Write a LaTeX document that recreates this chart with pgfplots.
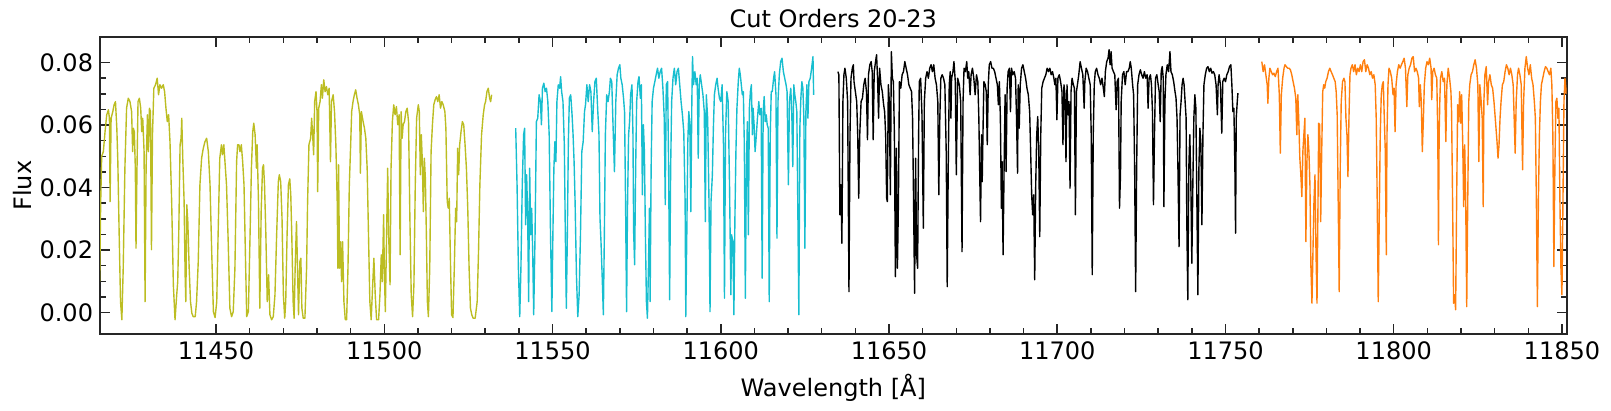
\documentclass[border=0pt]{standalone}
\usepackage{fontspec}
\setmainfont{DejaVu Sans}
\usepackage{pgfplots}
\pgfplotsset{compat=1.18}
\definecolor{tabolive}{HTML}{BCBD22}
\definecolor{tabcyan}{HTML}{17BECF}
\definecolor{taborange}{HTML}{FF7F0E}
\definecolor{spine}{HTML}{262626}
\newcommand{\lblfont}{\fontsize{17.3}{20}\selectfont}
\begin{document}
\begin{tikzpicture}
\begin{axis}[
  scale only axis, width=1056pt, height=214pt,
  xmin=11415.5, xmax=11851.4, ymin=-0.0069, ymax=0.0882,
  xtick={11450,11500,11550,11600,11650,11700,11750,11800,11850},
  ytick={0,0.02,0.04,0.06,0.08},
  minor x tick num=4, minor y tick num=3,
  tick align=inside, xtick pos=both, ytick pos=both,
  major tick length=7.2pt, minor tick length=4.3pt,
  every tick/.style={spine, line width=1.1pt},
  axis line style={spine, line width=1.3pt},
  scaled x ticks=false, scaled y ticks=false,
  /pgf/number format/assume math mode=true,
  xticklabel style={/pgf/number format/set thousands separator={}, anchor=base, inner sep=0pt, yshift=-18pt, font=\lblfont},
  yticklabel style={/pgf/number format/.cd, fixed, fixed zerofill, precision=2, /tikz/.cd, anchor=east, inner sep=0pt, xshift=-4.8pt, font=\lblfont},
  title={Cut Orders 20-23},
  title style={at={(axis description cs:0.5,1.0304)}, anchor=base, inner sep=0pt, yshift=-6pt, font=\lblfont},
  xlabel={Wavelength [Å]},
  xlabel style={at={(axis description cs:0.5,-0.21)}, anchor=base, inner sep=0pt, font=\lblfont},
  ylabel={Flux},
  ylabel style={at={(axis description cs:-0.0466,0.5)}, anchor=base, inner sep=0pt, font=\lblfont},
  every axis plot/.append style={line width=1pt, line join=round},
]
\addplot[tabolive] table {
x y
11415.4 0.0100
11415.7 0.0350
11416.0 0.0500
11416.5 0.0515
11417.0 0.0579
11417.5 0.0633
11418.0 0.0649
11418.3 0.0622
11418.5 0.0355
11418.8 0.0622
11419.3 0.0643
11419.7 0.0665
11420.1 0.0675
11420.5 0.0590
11420.8 0.0483
11421.2 0.0249
11421.6 0.0035
11422.0 -0.0023
11422.4 0.0142
11422.9 0.0462
11423.4 0.0654
11423.9 0.0686
11424.4 0.0675
11424.9 0.0643
11425.2 0.0515
11425.4 0.0590
11425.7 0.0579
11426.0 0.0462
11426.2 0.0206
11426.5 0.0462
11426.8 0.0675
11427.2 0.0686
11427.6 0.0654
11427.9 0.0579
11428.2 0.0622
11428.6 0.0515
11428.9 0.0035
11429.2 0.0462
11429.6 0.0633
11429.9 0.0515
11430.2 0.0654
11430.5 0.0643
11430.8 0.0201
11431.1 0.0569
11431.5 0.0718
11432.0 0.0729
11432.5 0.0750
11432.9 0.0697
11433.3 0.0729
11433.8 0.0718
11434.3 0.0729
11434.7 0.0707
11435.1 0.0654
11435.5 0.0611
11435.9 0.0633
11436.3 0.0547
11436.8 0.0355
11437.3 0.0089
11437.8 -0.0023
11438.3 0.0057
11438.6 0.0099
11438.9 0.0249
11439.3 0.0537
11439.6 0.0558
11439.8 0.0622
11440.1 0.0494
11440.5 0.0355
11440.8 0.0121
11441.0 0.0035
11441.3 0.0345
11441.6 0.0291
11442.0 0.0142
11442.4 0.0035
11442.8 -0.0002
11443.2 -0.0013
11443.8 -0.0013
11444.2 0.0035
11444.7 0.0163
11445.2 0.0409
11445.7 0.0494
11446.2 0.0526
11446.7 0.0547
11447.2 0.0558
11447.7 0.0515
11448.2 0.0409
11448.7 0.0195
11449.2 0.0003
11449.7 -0.0016
11450.2 0.0035
11450.6 0.0249
11451.1 0.0494
11451.6 0.0537
11451.9 0.0505
11452.3 0.0537
11452.7 0.0473
11453.1 0.0409
11453.6 0.0227
11454.1 0.0014
11454.6 -0.0013
11455.1 0.0003
11455.6 0.0142
11456.1 0.0483
11456.4 0.0537
11456.8 0.0537
11457.1 0.0515
11457.5 0.0537
11457.9 0.0483
11458.3 0.0409
11458.7 0.0195
11459.1 -0.0013
11459.6 0.0003
11460.1 0.0249
11460.5 0.0462
11460.9 0.0579
11461.2 0.0606
11461.6 0.0569
11462.0 0.0462
11462.2 0.0537
11462.6 0.0355
11463.0 0.0014
11463.4 0.0323
11463.8 0.0462
11464.1 0.0473
11464.4 0.0409
11464.8 0.0249
11465.2 0.0035
11465.6 0.0121
11466.0 -0.0007
11466.5 -0.0023
11467.0 -0.0013
11467.5 0.0057
11468.0 0.0249
11468.5 0.0419
11468.8 0.0441
11469.2 0.0419
11469.6 0.0302
11470.0 0.0057
11470.4 -0.0018
11470.7 0.0035
11471.1 0.0249
11471.5 0.0409
11471.9 0.0428
11472.2 0.0377
11472.5 0.0249
11472.9 0.0035
11473.2 -0.0018
11473.5 0.0142
11473.9 0.0291
11474.2 0.0142
11474.5 -0.0007
11474.9 0.0163
11475.2 0.0174
11475.5 0.0014
11475.9 -0.0018
11476.4 -0.0018
11476.9 0.0142
11477.2 0.0355
11477.6 0.0537
11478.1 0.0558
11478.4 0.0622
11478.7 0.0569
11479.0 0.0505
11479.3 0.0675
11479.7 0.0707
11480.0 0.0643
11480.2 0.0387
11480.5 0.0654
11480.9 0.0675
11481.3 0.0729
11481.6 0.0686
11482.0 0.0745
11482.4 0.0707
11482.8 0.0723
11483.2 0.0697
11483.6 0.0718
11484.0 0.0483
11484.3 0.0675
11484.8 0.0697
11485.2 0.0643
11485.6 0.0537
11486.0 0.0355
11486.2 0.0142
11486.4 0.0473
11486.7 0.0142
11487.0 0.0227
11487.3 0.0099
11487.6 0.0227
11488.0 0.0035
11488.4 -0.0023
11488.8 -0.0023
11489.2 0.0142
11489.6 0.0409
11490.0 0.0537
11490.3 0.0643
11490.7 0.0675
11491.1 0.0697
11491.5 0.0713
11491.9 0.0686
11492.3 0.0665
11492.7 0.0633
11492.9 0.0446
11493.2 0.0643
11493.7 0.0611
11494.1 0.0590
11494.5 0.0558
11494.9 0.0462
11495.3 0.0249
11495.7 0.0035
11496.1 -0.0023
11496.5 0.0078
11496.9 0.0174
11497.3 0.0057
11497.7 -0.0023
11498.3 -0.0023
11498.7 0.0057
11499.1 0.0185
11499.4 0.0099
11499.8 0.0313
11500.0 0.0142
11500.3 0.0003
11500.6 0.0195
11501.0 0.0462
11501.3 0.0249
11501.7 0.0089
11502.0 0.0462
11502.4 0.0611
11502.8 0.0665
11503.2 0.0633
11503.6 0.0659
11504.0 0.0601
11504.4 0.0633
11504.7 0.0185
11505.0 0.0643
11505.3 0.0558
11505.6 0.0601
11506.0 0.0611
11506.4 0.0643
11506.8 0.0654
11507.2 0.0611
11507.6 0.0302
11508.0 0.0057
11508.4 -0.0013
11508.8 0.0089
11509.2 0.0409
11509.6 0.0622
11510.1 0.0665
11510.4 0.0643
11510.7 0.0441
11511.0 0.0569
11511.3 0.0483
11511.6 0.0323
11511.9 0.0494
11512.2 0.0430
11512.5 0.0249
11512.8 0.0035
11513.1 -0.0013
11513.5 0.0142
11513.9 0.0515
11514.3 0.0601
11514.7 0.0665
11515.1 0.0681
11515.5 0.0691
11515.9 0.0675
11516.3 0.0697
11516.7 0.0654
11517.1 0.0675
11517.5 0.0665
11518.0 0.0643
11518.3 0.0590
11518.7 0.0355
11519.0 0.0334
11519.3 0.0366
11519.7 0.0142
11520.0 -0.0007
11520.4 -0.0016
11520.8 0.0142
11521.2 0.0334
11521.5 0.0291
11521.8 0.0526
11522.1 0.0441
11522.4 0.0537
11522.8 0.0579
11523.2 0.0611
11523.6 0.0601
11524.0 0.0537
11524.4 0.0462
11524.8 0.0334
11525.2 0.0142
11525.6 0.0014
11526.0 -0.0007
11526.4 -0.0018
11527.0 -0.0018
11527.6 0.0035
11528.0 0.0195
11528.4 0.0409
11528.9 0.0569
11529.4 0.0633
11529.8 0.0665
11530.1 0.0675
11530.5 0.0707
11530.9 0.0718
11531.3 0.0686
11531.6 0.0675
11531.9 0.0697
};
\addplot[tabcyan] table {
x y
11539.05 0.0590
11539.45 0.0409
11539.85 0.0142
11540.25 -0.0013
11540.6 0.0142
11541.0 0.0409
11541.4 0.0569
11541.7 0.0590
11542.0 0.0281
11542.3 0.0441
11542.6 0.0313
11542.9 0.0035
11543.2 0.0462
11543.5 0.0249
11543.8 0.0334
11544.1 0.0195
11544.4 -0.0007
11544.8 0.0249
11545.2 0.0611
11545.6 0.0622
11546.0 0.0697
11546.4 0.0675
11546.7 0.0601
11547.0 0.0718
11547.4 0.0734
11547.8 0.0707
11548.2 0.0718
11548.6 0.0675
11549.0 0.0569
11549.4 0.0249
11549.8 0.0003
11550.1 0.0249
11550.4 0.0462
11550.7 0.0547
11551.0 0.0483
11551.3 0.0675
11551.7 0.0729
11552.1 0.0718
11552.4 0.0755
11552.7 0.0707
11553.1 0.0675
11553.5 0.0537
11553.8 0.0249
11554.1 0.0014
11554.4 0.0249
11554.7 0.0547
11555.0 0.0686
11555.4 0.0697
11555.8 0.0633
11556.1 0.0569
11556.4 0.0483
11556.7 0.0355
11557.1 0.0121
11557.5 -0.0013
11557.9 0.0057
11558.3 0.0249
11558.7 0.0515
11559.1 0.0547
11559.5 0.0643
11559.8 0.0665
11560.2 0.0729
11560.6 0.0675
11561.0 0.0729
11561.4 0.0707
11561.8 0.0579
11562.2 0.0675
11562.6 0.0739
11563.0 0.0750
11563.4 0.0654
11563.8 0.0569
11564.1 0.0302
11564.4 0.0227
11564.8 0.0099
11565.1 -0.0007
11565.4 0.0249
11565.7 0.0569
11566.1 0.0697
11566.5 0.0675
11566.9 0.0707
11567.2 0.0750
11567.6 0.0739
11568.0 0.0590
11568.4 0.0451
11568.8 0.0675
11569.2 0.0761
11569.6 0.0782
11570.0 0.0793
11570.3 0.0750
11570.7 0.0729
11571.1 0.0686
11571.4 0.0643
11571.7 0.0355
11572.0 0.0003
11572.3 0.0355
11572.6 0.0569
11572.9 0.0611
11573.2 0.0697
11573.6 0.0729
11573.9 0.0569
11574.1 0.0259
11574.4 0.0153
11574.7 0.0462
11575.0 0.0675
11575.4 0.0739
11575.7 0.0755
11576.1 0.0686
11576.4 0.0729
11576.7 0.0377
11577.0 0.0601
11577.3 0.0515
11577.6 0.0249
11577.9 0.0035
11578.2 -0.0018
11578.5 0.0142
11578.8 0.0334
11579.0 0.0035
11579.3 0.0462
11579.6 0.0675
11580.0 0.0718
11580.4 0.0739
11580.8 0.0761
11581.2 0.0782
11581.6 0.0750
11582.0 0.0771
11582.4 0.0782
11582.8 0.0718
11583.2 0.0622
11583.5 0.0345
11583.8 0.0729
11584.2 0.0739
11584.5 0.0462
11584.8 0.0041
11585.1 0.0462
11585.4 0.0675
11585.8 0.0750
11586.2 0.0782
11586.6 0.0729
11587.0 0.0771
11587.4 0.0782
11587.8 0.0729
11588.2 0.0675
11588.6 0.0633
11589.0 0.0579
11589.4 0.0355
11589.6 -0.0013
11589.9 0.0249
11590.2 0.0547
11590.5 0.0643
11590.8 0.0601
11591.1 0.0323
11591.4 0.0675
11591.6 0.0819
11591.9 0.0729
11592.3 0.0771
11592.7 0.0729
11593.0 0.0750
11593.3 0.0494
11593.6 0.0729
11593.9 0.0761
11594.3 0.0729
11594.7 0.0697
11595.1 0.0643
11595.4 0.0291
11595.7 0.0697
11596.1 0.0622
11596.5 0.0355
11596.8 0.0003
11597.1 0.0355
11597.5 0.0441
11597.8 0.0590
11598.1 0.0697
11598.5 0.0729
11598.9 0.0750
11599.2 0.0718
11599.6 0.0686
11600.0 0.0675
11600.4 0.0729
11600.8 0.0537
11601.1 0.0046
11601.4 0.0569
11601.8 0.0707
11602.2 0.0675
11602.6 0.0409
11603.0 0.0057
11603.2 0.0249
11603.6 0.0227
11603.9 -0.0007
11604.2 0.0302
11604.5 0.0515
11604.8 0.0654
11605.2 0.0739
11605.5 0.0782
11605.8 0.0761
11606.1 0.0729
11606.4 0.0697
11606.7 0.0707
11607.0 0.0537
11607.3 0.0046
11607.6 0.0462
11607.9 0.0611
11608.2 0.0249
11608.5 0.0654
11608.8 0.0707
11609.1 0.0729
11609.4 0.0569
11609.6 0.0654
11609.9 0.0601
11610.2 0.0515
11610.5 0.0558
11610.9 0.0622
11611.3 0.0675
11611.6 0.0633
11612.0 0.0654
11612.3 0.0110
11612.6 0.0643
11612.9 0.0691
11613.2 0.0611
11613.5 0.0633
11613.8 0.0601
11614.1 0.0590
11614.4 0.0035
11614.7 0.0569
11615.0 0.0707
11615.3 0.0707
11615.7 0.0750
11616.0 0.0771
11616.4 0.0697
11616.7 0.0238
11617.0 0.0675
11617.4 0.0761
11617.8 0.0803
11618.2 0.0814
11618.6 0.0771
11619.0 0.0750
11619.4 0.0729
11619.7 0.0707
11620.1 0.0409
11620.4 0.0675
11620.8 0.0718
11621.1 0.0643
11621.4 0.0467
11621.7 0.0729
11622.0 0.0697
11622.3 0.0675
11622.6 0.0643
11622.9 0.0334
11623.2 -0.0007
11623.5 0.0590
11623.8 0.0686
11624.1 0.0739
11624.4 0.0718
11624.7 0.0622
11625.0 0.0206
11625.3 0.0643
11625.6 0.0729
11625.9 0.0622
11626.2 0.0739
11626.6 0.0750
11627.0 0.0782
11627.4 0.0819
11627.6 0.0697
};
\addplot[black] table {
x y
11634.8 0.0771
11635.1 0.0761
11635.4 0.0313
11635.7 0.0409
11636.0 0.0222
11636.3 0.0675
11636.6 0.0761
11636.9 0.0782
11637.3 0.0750
11637.7 0.0675
11638.1 0.0067
11638.4 0.0569
11638.7 0.0750
11639.1 0.0782
11639.4 0.0793
11639.6 0.0739
11640.0 0.0707
11640.4 0.0675
11640.7 0.0569
11641.0 0.0366
11641.3 0.0569
11641.7 0.0675
11642.1 0.0686
11642.5 0.0729
11642.9 0.0750
11643.3 0.0707
11643.6 0.0553
11643.9 0.0761
11644.3 0.0793
11644.7 0.0803
11645.0 0.0771
11645.3 0.0553
11645.6 0.0771
11646.0 0.0803
11646.3 0.0825
11646.6 0.0750
11646.9 0.0622
11647.2 0.0782
11647.6 0.0729
11648.0 0.0707
11648.4 0.0665
11648.7 0.0643
11649.0 0.0569
11649.3 0.0366
11649.5 0.0355
11649.8 0.0729
11650.1 0.0675
11650.4 0.0377
11650.7 0.0835
11651.0 0.0750
11651.3 0.0739
11651.6 0.0569
11651.9 0.0115
11652.2 0.0526
11652.5 0.0142
11652.8 0.0355
11653.1 0.0739
11653.5 0.0718
11653.9 0.0761
11654.3 0.0771
11654.7 0.0803
11655.1 0.0782
11655.5 0.0761
11655.9 0.0729
11656.3 0.0718
11656.7 0.0707
11657.0 0.0622
11657.3 0.0355
11657.6 0.0062
11657.9 0.0494
11658.2 0.0185
11658.5 0.0142
11658.8 0.0569
11659.0 0.0739
11659.4 0.0750
11659.8 0.0633
11660.2 0.0270
11660.5 0.0675
11660.9 0.0750
11661.3 0.0771
11661.7 0.0750
11662.1 0.0782
11662.5 0.0793
11662.9 0.0771
11663.3 0.0793
11663.7 0.0750
11664.1 0.0729
11664.5 0.0675
11664.8 0.0377
11665.1 0.0622
11665.4 0.0750
11665.8 0.0761
11666.2 0.0750
11666.6 0.0729
11667.0 0.0515
11667.3 0.0083
11667.6 0.0462
11667.9 0.0729
11668.2 0.0771
11668.4 0.0622
11668.6 0.0750
11669.0 0.0771
11669.3 0.0803
11669.7 0.0739
11670.0 0.0441
11670.4 0.0750
11670.9 0.0729
11671.3 0.0675
11671.7 0.0195
11672.0 0.0675
11672.3 0.0782
11672.7 0.0771
11673.1 0.0803
11673.4 0.0750
11673.7 0.0771
11674.1 0.0697
11674.4 0.0761
11674.8 0.0782
11675.2 0.0750
11675.6 0.0697
11676.0 0.0761
11676.4 0.0739
11676.7 0.0622
11677.0 0.0419
11677.2 0.0291
11677.5 0.0569
11677.7 0.0419
11678.0 0.0622
11678.2 0.0739
11678.6 0.0729
11678.9 0.0707
11679.2 0.0537
11679.5 0.0729
11679.8 0.0793
11680.2 0.0803
11680.6 0.0782
11681.0 0.0782
11681.4 0.0771
11681.8 0.0750
11682.2 0.0729
11682.5 0.0665
11682.8 0.0739
11683.1 0.0622
11683.4 0.0334
11683.6 0.0483
11683.9 0.0185
11684.2 0.0462
11684.5 0.0697
11684.8 0.0451
11685.1 0.0718
11685.4 0.0771
11685.8 0.0782
11686.1 0.0643
11686.4 0.0782
11686.8 0.0761
11687.2 0.0771
11687.6 0.0750
11687.9 0.0622
11688.2 0.0446
11688.4 0.0729
11688.7 0.0590
11689.0 0.0729
11689.4 0.0782
11689.8 0.0793
11690.2 0.0771
11690.6 0.0750
11691.0 0.0718
11691.4 0.0697
11691.8 0.0643
11692.1 0.0515
11692.4 0.0377
11692.7 0.0313
11693.0 0.0377
11693.3 0.0105
11693.6 0.0409
11693.9 0.0569
11694.2 0.0627
11694.5 0.0515
11694.8 0.0243
11695.1 0.0569
11695.4 0.0718
11695.8 0.0739
11696.2 0.0750
11696.6 0.0761
11697.0 0.0782
11697.4 0.0771
11697.8 0.0782
11698.2 0.0761
11698.6 0.0771
11699.0 0.0750
11699.3 0.0729
11699.6 0.0750
11699.9 0.0617
11700.2 0.0750
11700.6 0.0761
11701.0 0.0739
11701.4 0.0707
11701.7 0.0537
11702.0 0.0729
11702.3 0.0697
11702.6 0.0483
11702.9 0.0729
11703.2 0.0633
11703.5 0.0675
11703.8 0.0398
11704.1 0.0707
11704.4 0.0750
11704.8 0.0729
11705.1 0.0718
11705.4 0.0313
11705.7 0.0707
11706.0 0.0729
11706.4 0.0761
11706.8 0.0803
11707.2 0.0782
11707.6 0.0761
11708.0 0.0654
11708.2 0.0739
11708.6 0.0782
11709.0 0.0771
11709.4 0.0750
11709.8 0.0729
11710.1 0.0569
11710.4 0.0121
11710.7 0.0569
11711.0 0.0729
11711.3 0.0771
11711.7 0.0782
11712.1 0.0761
11712.5 0.0750
11712.9 0.0729
11713.3 0.0750
11713.7 0.0718
11714.0 0.0691
11714.3 0.0771
11714.7 0.0803
11715.1 0.0814
11715.4 0.0841
11715.7 0.0793
11716.0 0.0835
11716.3 0.0782
11716.7 0.0771
11717.1 0.0761
11717.5 0.0649
11717.8 0.0739
11718.2 0.0750
11718.5 0.0334
11718.8 0.0441
11719.0 0.0675
11719.4 0.0761
11719.8 0.0771
11720.2 0.0729
11720.6 0.0771
11721.0 0.0771
11721.4 0.0782
11721.7 0.0803
11722.0 0.0782
11722.4 0.0729
11722.7 0.0697
11723.0 0.0462
11723.3 0.0067
11723.6 0.0462
11723.9 0.0729
11724.3 0.0761
11724.7 0.0777
11725.1 0.0761
11725.5 0.0750
11725.9 0.0771
11726.3 0.0750
11726.7 0.0761
11727.0 0.0654
11727.3 0.0750
11727.7 0.0761
11728.0 0.0729
11728.3 0.0643
11728.6 0.0345
11728.9 0.0569
11729.2 0.0750
11729.6 0.0761
11730.0 0.0729
11730.3 0.0707
11730.6 0.0611
11730.9 0.0771
11731.2 0.0787
11731.5 0.0750
11731.7 0.0339
11732.0 0.0675
11732.3 0.0761
11732.7 0.0793
11733.1 0.0771
11733.5 0.0835
11733.8 0.0771
11734.2 0.0761
11734.6 0.0739
11735.0 0.0707
11735.3 0.0686
11735.6 0.0622
11735.9 0.0441
11736.2 0.0211
11736.5 0.0633
11736.8 0.0675
11737.1 0.0729
11737.4 0.0750
11737.7 0.0729
11738.0 0.0675
11738.3 0.0622
11738.5 0.0302
11738.8 0.0041
11739.1 0.0462
11739.4 0.0569
11739.7 0.0419
11740.0 0.0158
11740.3 0.0409
11740.6 0.0622
11740.9 0.0697
11741.2 0.0654
11741.5 0.0355
11741.8 0.0057
11742.1 0.0462
11742.4 0.0590
11742.7 0.0537
11743.0 0.0281
11743.3 0.0569
11743.6 0.0729
11744.0 0.0761
11744.4 0.0782
11744.8 0.0787
11745.2 0.0771
11745.6 0.0782
11746.0 0.0766
11746.4 0.0771
11746.8 0.0761
11747.2 0.0729
11747.6 0.0633
11747.8 0.0729
11748.1 0.0761
11748.5 0.0729
11748.9 0.0574
11749.2 0.0739
11749.6 0.0750
11750.0 0.0739
11750.4 0.0761
11750.8 0.0771
11751.2 0.0787
11751.6 0.0793
11751.9 0.0729
11752.2 0.0643
11752.5 0.0654
11752.8 0.0462
11753.0 0.0254
11753.2 0.0622
11753.5 0.0675
11753.7 0.0702
};
\addplot[taborange] table {
x y
11760.8 0.0803
11761.2 0.0771
11761.6 0.0793
11762.0 0.0761
11762.4 0.0729
11762.6 0.0670
11762.9 0.0750
11763.2 0.0782
11763.6 0.0771
11764.0 0.0761
11764.4 0.0766
11764.8 0.0755
11765.2 0.0771
11765.6 0.0782
11766.0 0.0697
11766.3 0.0510
11766.6 0.0697
11767.0 0.0750
11767.4 0.0782
11767.7 0.0793
11768.1 0.0787
11768.5 0.0782
11768.9 0.0782
11769.3 0.0777
11769.7 0.0761
11770.1 0.0739
11770.5 0.0718
11770.9 0.0686
11771.2 0.0569
11771.5 0.0697
11771.8 0.0611
11772.1 0.0494
11772.4 0.0441
11772.7 0.0371
11773.0 0.0515
11773.3 0.0569
11773.6 0.0622
11773.9 0.0227
11774.2 0.0483
11774.5 0.0569
11774.8 0.0515
11775.1 0.0409
11775.4 0.0142
11775.7 0.0030
11776.0 0.0195
11776.3 0.0355
11776.6 0.0441
11776.9 0.0195
11777.2 0.0030
11777.5 0.0355
11777.7 0.0606
11778.0 0.0601
11778.3 0.0291
11778.6 0.0515
11778.9 0.0707
11779.2 0.0729
11779.5 0.0718
11779.8 0.0739
11780.2 0.0750
11780.6 0.0771
11781.0 0.0782
11781.4 0.0771
11781.8 0.0761
11782.2 0.0750
11782.6 0.0739
11782.9 0.0707
11783.2 0.0633
11783.5 0.0355
11783.8 0.0067
11784.1 0.0462
11784.4 0.0675
11784.8 0.0739
11785.2 0.0750
11785.5 0.0739
11785.8 0.0622
11786.1 0.0569
11786.4 0.0435
11786.7 0.0622
11787.0 0.0761
11787.3 0.0782
11787.7 0.0793
11788.1 0.0771
11788.5 0.0793
11788.9 0.0761
11789.3 0.0782
11789.7 0.0771
11790.1 0.0793
11790.5 0.0771
11790.9 0.0803
11791.3 0.0809
11791.7 0.0771
11792.1 0.0793
11792.5 0.0782
11792.9 0.0761
11793.3 0.0771
11793.7 0.0750
11794.1 0.0761
11794.5 0.0729
11794.8 0.0622
11795.1 0.0355
11795.4 0.0035
11795.7 0.0302
11796.0 0.0569
11796.3 0.0697
11796.6 0.0729
11796.9 0.0739
11797.2 0.0622
11797.5 0.0515
11797.8 0.0185
11798.0 0.0569
11798.3 0.0729
11798.6 0.0782
11799.0 0.0771
11799.4 0.0750
11799.8 0.0697
11800.1 0.0718
11800.4 0.0579
11800.7 0.0729
11801.1 0.0771
11801.5 0.0793
11801.9 0.0782
11802.3 0.0793
11802.7 0.0803
11803.1 0.0814
11803.5 0.0782
11803.9 0.0659
11804.2 0.0761
11804.6 0.0782
11805.0 0.0793
11805.4 0.0814
11805.8 0.0819
11806.2 0.0771
11806.6 0.0782
11807.0 0.0771
11807.4 0.0750
11807.6 0.0659
11807.9 0.0729
11808.2 0.0675
11808.5 0.0515
11808.8 0.0611
11809.1 0.0729
11809.5 0.0782
11809.9 0.0803
11810.3 0.0793
11810.7 0.0814
11811.1 0.0782
11811.3 0.0681
11811.6 0.0771
11812.0 0.0782
11812.4 0.0761
11812.8 0.0750
11813.1 0.0569
11813.3 0.0217
11813.5 0.0569
11813.7 0.0675
11813.9 0.0750
11814.3 0.0771
11814.7 0.0739
11815.1 0.0750
11815.5 0.0547
11815.8 0.0729
11816.2 0.0782
11816.6 0.0750
11817.0 0.0707
11817.2 0.0643
11817.5 0.0355
11817.8 0.0030
11818.1 0.0057
11818.4 0.0009
11818.7 0.0355
11819.0 0.0665
11819.3 0.0611
11819.6 0.0707
11819.9 0.0606
11820.2 0.0697
11820.5 0.0547
11820.8 0.0339
11821.1 0.0537
11821.4 0.0355
11821.7 0.0019
11822.0 0.0355
11822.3 0.0675
11822.6 0.0729
11823.0 0.0761
11823.4 0.0771
11823.8 0.0793
11824.2 0.0809
11824.6 0.0782
11825.0 0.0729
11825.3 0.0483
11825.6 0.0729
11826.0 0.0675
11826.3 0.0622
11826.6 0.0339
11826.8 0.0675
11827.1 0.0761
11827.5 0.0787
11827.9 0.0665
11828.2 0.0739
11828.6 0.0761
11829.0 0.0729
11829.4 0.0718
11829.8 0.0675
11830.1 0.0633
11830.4 0.0590
11830.7 0.0547
11831.0 0.0494
11831.3 0.0537
11831.6 0.0622
11831.9 0.0675
11832.3 0.0729
11832.7 0.0739
11833.1 0.0771
11833.5 0.0793
11833.9 0.0782
11834.3 0.0761
11834.7 0.0782
11835.1 0.0761
11835.5 0.0729
11835.8 0.0622
11836.1 0.0510
11836.4 0.0675
11836.8 0.0761
11837.1 0.0782
11837.5 0.0761
11837.9 0.0729
11838.3 0.0457
11838.6 0.0675
11839.0 0.0782
11839.4 0.0819
11839.8 0.0782
11840.2 0.0761
11840.6 0.0793
11841.0 0.0750
11841.4 0.0729
11841.8 0.0675
11842.1 0.0622
11842.4 0.0355
11842.7 0.0019
11843.0 0.0355
11843.3 0.0569
11843.6 0.0675
11843.9 0.0729
11844.3 0.0750
11844.7 0.0771
11845.1 0.0787
11845.5 0.0782
11845.9 0.0771
11846.3 0.0761
11846.7 0.0782
11847.0 0.0729
11847.3 0.0569
11847.6 0.0147
11847.9 0.0462
11848.2 0.0675
11848.5 0.0686
11848.8 0.0622
11849.1 0.0654
11849.4 0.0355
11849.7 0.0142
11850.0 0.0057
11850.3 0.0355
11850.6 0.0675
11850.9 0.0750
11851.3 0.0700
};
\end{axis}
\pgfresetboundingbox
\path[use as bounding box] (-72pt,-55.2pt) rectangle (1087.9pt,240.6pt);
\end{tikzpicture}
\end{document}
